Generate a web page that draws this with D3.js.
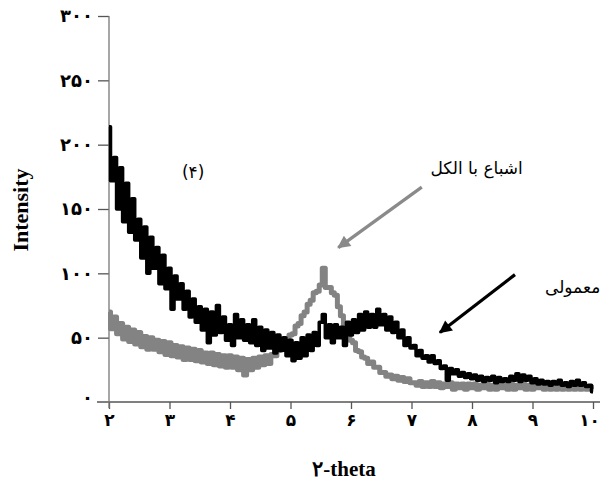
<!DOCTYPE html>
<html>
<head>
<meta charset="utf-8">
<script src="https://cdn.jsdelivr.net/npm/d3@7"></script>
<style>
  body { margin: 0; background: #fff; }
  .tick text { font-family: "DejaVu Sans", sans-serif; font-weight: bold; }
</style>
</head>
<body>
<div class="chart"></div>
<script>
// XRD pattern - 2-theta vs intensity

// 2-theta grid of the scan
var thetaStart = 2;
var thetaStep = 0.05;

// normal sample (black)
var normalValues = [
  214, 172, 190, 150, 182, 140, 170, 132, 158, 126,
  142, 112, 136, 100, 128, 104, 120, 92, 114, 88,
  104, 72, 98, 80, 92, 72, 86, 66, 80, 62,
  74, 56, 72, 46, 70, 52, 75, 54, 66, 48,
  60, 44, 68, 50, 64, 48, 60, 46, 64, 44,
  58, 40, 56, 42, 54, 38, 52, 40, 50, 36,
  48, 32, 46, 34, 50, 36, 52, 40, 54, 44,
  62, 68, 50, 60, 46, 60, 50, 58, 44, 62,
  52, 64, 54, 68, 56, 70, 58, 68, 58, 72,
  60, 68, 56, 66, 54, 62, 50, 56, 44, 50,
  42, 44, 36, 40, 34, 36, 31, 36, 30, 32,
  26, 28, 17, 26, 22, 25, 20, 23, 19, 22,
  18, 21, 17, 20, 16, 19, 17, 20, 15, 19,
  16, 18, 16, 20, 17, 22, 16, 21, 17, 20,
  15, 18, 14, 17, 14, 16, 13, 16, 14, 17,
  13, 15, 12, 16, 13, 17, 13, 15, 12, 13,
  8
];

// alcohol saturated sample (gray)
var alcoholValues = [
  70, 57, 66, 53, 61, 49, 58, 47, 56, 45,
  54, 43, 51, 41, 50, 41, 48, 39, 47, 37,
  46, 36, 44, 35, 43, 33, 42, 33, 41, 32,
  40, 31, 38, 30, 38, 29, 37, 28, 36, 27,
  36, 27, 35, 25, 34, 21, 33, 25, 34, 27,
  35, 29, 36, 30, 37, 36, 40, 41, 47, 47,
  52, 53, 59, 61, 67, 70, 76, 79, 85, 86,
  91, 104, 89, 89, 85, 83, 74, 67, 57, 55,
  48, 46, 40, 39, 35, 34, 30, 31, 27, 27,
  23, 23, 20, 21, 18, 20, 17, 19, 16, 18,
  15, 15, 13, 16, 12, 15, 12, 16, 12, 15,
  11, 14, 12, 15, 10, 14, 11, 14, 10, 14,
  11, 14, 10, 13, 11, 14, 10, 13, 10, 14,
  11, 13, 10, 14, 10, 13, 11, 14, 10, 13,
  10, 13, 11, 14, 10, 12, 10, 13, 10, 13,
  10, 13, 10, 12, 10, 13, 10, 12, 10, 12,
  10
];

var xTicks = [2, 3, 4, 5, 6, 7, 8, 9, 10];
var yTicks = [0, 50, 100, 150, 200, 250, 300];

// annotations (data units)
var alcoholLabel = { text: "اشباع با الکل", x: 8.84, y: 182 };
var normalLabel = { text: "معمولی", x: 10.12, y: 89 };
var panelLabel = { text: "(۴)", x: 3.39, y: 179 };
var alcoholArrow = { x1: 7.17, y1: 167, x2: 5.79, y2: 120 };
var normalArrow = { x1: 8.71, y1: 99, x2: 7.47, y2: 54 };

var svgWidth = 603;
var svgHeight = 483;

var faDigits = "۰۱۲۳۴۵۶۷۸۹";
function toFa(n) {
  return String(n).replace(/[0-9]/g, function(c) { return faDigits[+c]; });
}

var svg = d3.select(".chart")
  .append("svg")
  .attr("width", svgWidth)
  .attr("height", svgHeight)
  .style("display", "block");

svg.append("rect")
  .attr("width", svgWidth)
  .attr("height", svgHeight)
  .attr("fill", "#fff");

var xScale = d3.scaleLinear().domain([2, 10]).range([109, 593]);
var yScale = d3.scaleLinear().domain([0, 300]).range([402, 16]);

// axes
var xAxis = svg.append("g")
  .attr("transform", `translate(0, ${yScale(0)})`)
  .call(d3.axisBottom(xScale)
    .tickValues(xTicks)
    .tickSize(7)
    .tickSizeOuter(0)
    .tickFormat(toFa));

xAxis.select(".domain").remove();
xAxis.append("line")
  .attr("x1", xScale(2) - 12)
  .attr("x2", xScale(10) + 7)
  .attr("stroke", "#555")
  .attr("stroke-width", 1.3);
xAxis.selectAll(".tick line").attr("stroke", "#555").attr("stroke-width", 1.3);
xAxis.selectAll(".tick text")
  .attr("y", 12)
  .attr("font-size", 17)
  .attr("fill", "#000");
xAxis.selectAll(".tick").filter(d => d === 10).select("text").attr("dx", -4);

var yAxis = svg.append("g")
  .attr("transform", `translate(${xScale(2)}, 0)`)
  .call(d3.axisLeft(yScale)
    .tickValues(yTicks)
    .tickSize(11)
    .tickSizeOuter(0)
    .tickPadding(5)
    .tickFormat(toFa));

yAxis.select(".domain").remove();
yAxis.append("line")
  .attr("y1", yScale(300))
  .attr("y2", yScale(0) + 6)
  .attr("stroke", "#777")
  .attr("stroke-width", 1.3);
yAxis.selectAll(".tick line").attr("stroke", "#555").attr("stroke-width", 1.3);
yAxis.selectAll(".tick text")
  .attr("font-size", 18)
  .attr("fill", "#000");
yAxis.selectAll(".tick").filter(d => d === 0).select("line").remove();
yAxis.selectAll(".tick").filter(d => d === 0).select("text").attr("dy", "0.1em");

// axis titles
svg.append("text")
  .attr("x", 344)
  .attr("y", 476)
  .attr("text-anchor", "middle")
  .style("font-family", "'Liberation Serif', 'DejaVu Serif', serif")
  .style("font-weight", "bold")
  .style("font-size", "21px")
  .text(toFa(2) + "-theta");

svg.append("text")
  .attr("transform", `translate(28, 210) rotate(-90)`)
  .attr("text-anchor", "middle")
  .style("font-family", "'Liberation Serif', 'DejaVu Serif', serif")
  .style("font-weight", "bold")
  .style("font-size", "22px")
  .text("Intensity");

// series
var line = d3.line()
  .x((d, i) => xScale(thetaStart + i * thetaStep))
  .y(d => yScale(d))
  .curve(d3.curveStep);

svg.append("path")
  .datum(alcoholValues)
  .attr("d", line)
  .attr("fill", "none")
  .attr("stroke", "#838383")
  .attr("stroke-width", 5)
  .attr("stroke-linejoin", "round");

svg.append("path")
  .datum(normalValues)
  .attr("d", line)
  .attr("fill", "none")
  .attr("stroke", "#000")
  .attr("stroke-width", 3.5)
  .attr("stroke-linejoin", "round");

// arrow markers
var defs = svg.append("defs");
function addMarker(id, color) {
  defs.append("marker")
    .attr("id", id)
    .attr("viewBox", "0 0 10 10")
    .attr("refX", 9)
    .attr("refY", 5)
    .attr("markerWidth", 5)
    .attr("markerHeight", 4)
    .attr("markerUnits", "strokeWidth")
    .attr("orient", "auto")
    .append("path")
    .attr("d", "M0,0 L10,5 L0,10 Z")
    .attr("fill", color);
}
addMarker("arrowGray", "#8a8a8a");
addMarker("arrowBlack", "#000");

svg.append("line")
  .attr("x1", xScale(alcoholArrow.x1))
  .attr("y1", yScale(alcoholArrow.y1))
  .attr("x2", xScale(alcoholArrow.x2))
  .attr("y2", yScale(alcoholArrow.y2))
  .attr("stroke", "#8a8a8a")
  .attr("stroke-width", 3.2)
  .attr("marker-end", "url(#arrowGray)");

svg.append("line")
  .attr("x1", xScale(normalArrow.x1))
  .attr("y1", yScale(normalArrow.y1))
  .attr("x2", xScale(normalArrow.x2))
  .attr("y2", yScale(normalArrow.y2))
  .attr("stroke", "#000")
  .attr("stroke-width", 3.2)
  .attr("marker-end", "url(#arrowBlack)");

// labels
[alcoholLabel, normalLabel].forEach(function(l) {
  svg.append("text")
    .attr("x", xScale(l.x))
    .attr("y", yScale(l.y))
    .attr("dy", "0.35em")
    .attr("text-anchor", "end")
    .style("font-family", "'DejaVu Sans', sans-serif")
    .style("font-size", "17px")
    .text(l.text);
});

svg.append("text")
  .attr("x", xScale(panelLabel.x))
  .attr("y", yScale(panelLabel.y))
  .attr("dy", "0.35em")
  .attr("text-anchor", "middle")
  .style("font-family", "'DejaVu Sans', sans-serif")
  .style("font-size", "17px")
  .text(panelLabel.text);
</script>
</body>
</html>
